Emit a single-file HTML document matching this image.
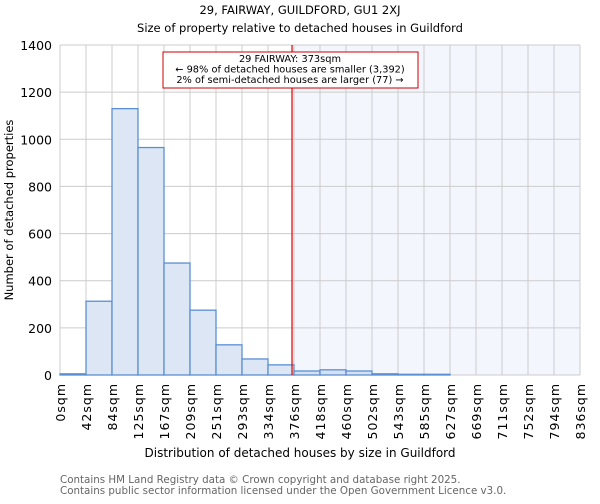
<!DOCTYPE html>
<html><head><meta charset="utf-8"><style>
body{margin:0;background:#fff;font-family:"DejaVu Sans","Liberation Sans",sans-serif;}
svg text{font-family:"DejaVu Sans","Liberation Sans",sans-serif;}
</style></head><body>
<svg id="chart" width="600" height="500" xmlns="http://www.w3.org/2000/svg">
<text x="300" y="14" text-anchor="middle" font-size="11.5">29, FAIRWAY, GUILDFORD, GU1 2XJ</text>
<text x="300" y="32" text-anchor="middle" font-size="11.5">Size of property relative to detached houses in Guildford</text>
<g id="plot"></g>
<text x="300" y="457" text-anchor="middle" font-size="12">Distribution of detached houses by size in Guildford</text>
<text transform="translate(13,210) rotate(-90)" text-anchor="middle" font-size="11.5">Number of detached properties</text>
<text x="60" y="483" font-size="10.3" fill="#666">Contains HM Land Registry data © Crown copyright and database right 2025.</text>
<text x="60" y="494" font-size="10.3" fill="#666">Contains public sector information licensed under the Open Government Licence v3.0.</text>
</svg>
<script>
const binLabels=["0sqm","42sqm","84sqm","125sqm","167sqm","209sqm","251sqm","293sqm","334sqm","376sqm","418sqm","460sqm","502sqm","543sqm","585sqm","627sqm","669sqm","711sqm","752sqm","794sqm","836sqm"];
const counts=[5,313,1130,965,475,275,128,68,43,17,22,17,5,3,3,0,0,0,0,0];
const yTicks=[0,200,400,600,800,1000,1200,1400];
const propertySize=373;
const maxSize=836;
const NS="http://www.w3.org/2000/svg";
const L=60,R=580,T=45,B=375,yMax=1400;
const nb=counts.length;
const xs=i=>L+(R-L)*i/nb;
const xv=v=>L+(R-L)*v/maxSize;
const ys=v=>B-(B-T)*v/yMax;
const g=document.getElementById('plot');
function mk(t,a){const e=document.createElementNS(NS,t);for(const k in a)e.setAttribute(k,a[k]);g.appendChild(e);return e;}
const px=xv(propertySize);
let e=mk('rect',{x:px,y:T,width:R-px,height:B-T,fill:'#f3f6fd'});


yTicks.forEach(v=>{const l=mk('line',{x1:L,x2:R,y1:ys(v),y2:ys(v),stroke:'#ccc'});


const t=mk('text',{x:L-8,y:ys(v)+5,'text-anchor':'end','font-size':'12.5'});t.textContent=v;

});
for(let i=0;i<=nb;i++){const l=mk('line',{x1:xs(i),x2:xs(i),y1:T,y2:B,stroke:'#ccc'});

}
counts.forEach((c,i)=>{const r=mk('rect',{x:xs(i),y:ys(c),width:xs(i+1)-xs(i),height:B-ys(c),fill:xs(i)>=px?'#d6e0f0':'#dce6f4',stroke:'#5a8fd4','stroke-width':'1.3'});

});
binLabels.forEach((lb,i)=>{const t=mk('text',{transform:`translate(${xs(i)+5},383) rotate(-90)`,'text-anchor':'end','font-size':'12.5','letter-spacing':'1'});t.textContent=lb;

});
e=mk('line',{x1:px,x2:px,y1:T,y2:B,stroke:'#dd0000','stroke-width':'1.2'});


e=mk('rect',{x:163,y:52,width:255,height:36,fill:'#fff',stroke:'#cc0000'});


["29 FAIRWAY: 373sqm","← 98% of detached houses are smaller (3,392)","2% of semi-detached houses are larger (77) →"].forEach((s,i)=>{const t=mk('text',{x:290,y:62+i*10.5,'text-anchor':'middle','font-size':'9.8'});t.textContent=s;

});
</script>
</body></html>
